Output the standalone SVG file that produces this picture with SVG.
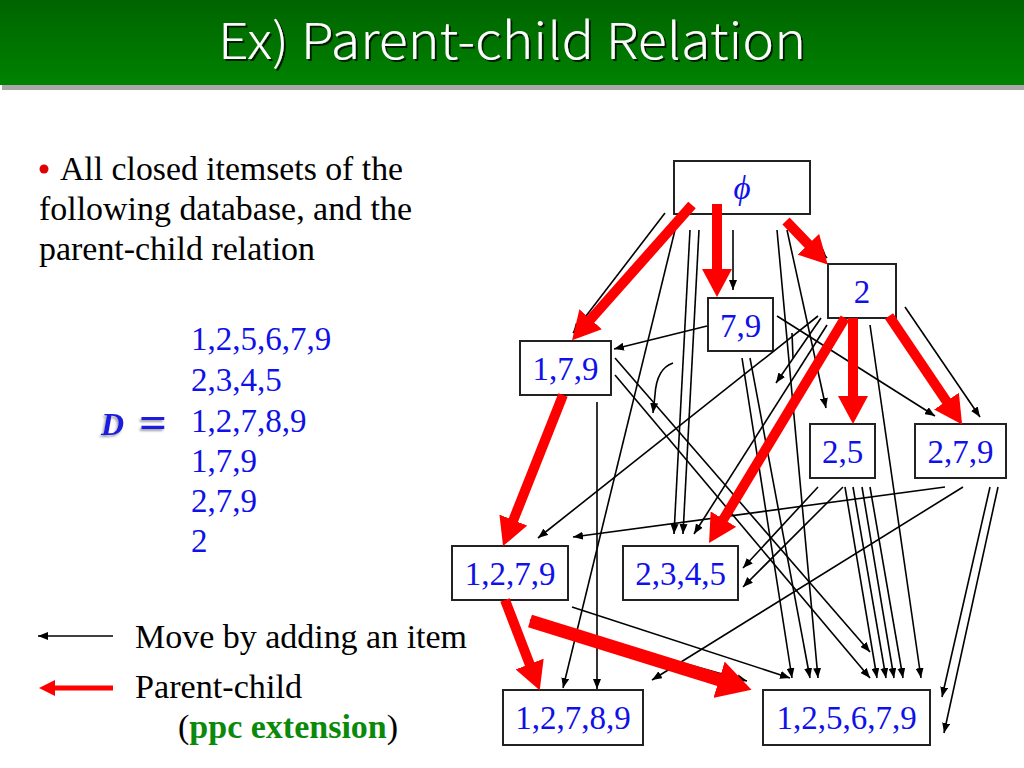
<svg xmlns="http://www.w3.org/2000/svg" width="1024" height="768" viewBox="0 0 1024 768">
<defs>
<linearGradient id="gTitle" x1="0" y1="0" x2="0" y2="1">
<stop offset="0" stop-color="#006400"/>
<stop offset="1" stop-color="#008200"/>
</linearGradient>
<filter id="shTitle" x="-5%" y="-20%" width="110%" height="150%">
<feDropShadow dx="2" dy="2" stdDeviation="0.6" flood-color="#000" flood-opacity="0.75"/>
</filter>
<filter id="shD" x="-30%" y="-30%" width="160%" height="160%">
<feDropShadow dx="-1.5" dy="2" stdDeviation="0.8" flood-color="#888" flood-opacity="0.8"/>
</filter>
<marker id="ab" viewBox="0 0 10 8" refX="10" refY="4" markerWidth="10" markerHeight="8" markerUnits="userSpaceOnUse" orient="auto">
<path d="M0,0 L10,4 L0,8 z" fill="#000"/>
</marker>
<marker id="ar" viewBox="0 0 28 30" refX="1" refY="15" markerWidth="28" markerHeight="30" markerUnits="userSpaceOnUse" orient="auto">
<path d="M0,0 L28,15 L0,30 z" fill="#ff0000"/>
</marker>
<marker id="arBig" viewBox="0 0 34 38" refX="1" refY="19" markerWidth="34" markerHeight="38" markerUnits="userSpaceOnUse" orient="auto">
<path d="M0,0 L34,19 L0,38 z" fill="#ff0000"/>
</marker>
<marker id="arLeg" viewBox="0 0 16 16" refX="1" refY="8" markerWidth="16" markerHeight="16" markerUnits="userSpaceOnUse" orient="auto">
<path d="M0,0 L16,8 L0,16 z" fill="#ff0000"/>
</marker>
<style>
.box{fill:#fff;stroke:#222;stroke-width:2}
.lbl{font-family:"Liberation Serif","Times New Roman",serif;font-size:33px;fill:#1010e8;text-anchor:middle}
.blk{fill:none;stroke:#000;stroke-width:1.6;marker-end:url(#ab)}
.red{fill:none;stroke:#ff0000;stroke-width:10;marker-end:url(#ar)}
.txt{font-family:"Liberation Serif","Times New Roman",serif;font-size:34px;fill:#000}
.db{font-family:"Liberation Serif","Times New Roman",serif;font-size:33px;fill:#1010e8}
</style>
</defs>
<rect width="1024" height="768" fill="#fff"/>
<g id="title">
<rect x="2" y="85" width="1022" height="5" fill="#a8a8a8"/>
<rect x="0" y="0" width="1024" height="85" fill="url(#gTitle)"/>
<text x="512" y="59" text-anchor="middle" font-family="'Noto Sans CJK JP','Noto Sans',sans-serif" font-size="50" font-weight="300" fill="#fff" textLength="588" lengthAdjust="spacingAndGlyphs" filter="url(#shTitle)">Ex) Parent-child Relation</text>
</g>
<g id="intro">
<circle cx="44" cy="169" r="4.5" fill="#e00000"/>
<text class="txt" x="60" y="180" textLength="343" lengthAdjust="spacingAndGlyphs">All closed itemsets of the</text>
<text class="txt" x="39" y="220" textLength="373" lengthAdjust="spacingAndGlyphs">following database, and the</text>
<text class="txt" x="39" y="260" textLength="276" lengthAdjust="spacingAndGlyphs">parent-child relation</text>
</g>
<g id="database">
<text x="101" y="435" font-family="'Liberation Serif',serif" font-size="32" font-weight="bold" font-style="italic" fill="#1a1ae0" filter="url(#shD)">D</text>
<text x="139" y="437" font-family="'Liberation Serif',serif" font-size="44" font-weight="bold" fill="#1a1ae0" filter="url(#shD)" textLength="28" lengthAdjust="spacingAndGlyphs">=</text>
<text class="db" x="191" y="350">1,2,5,6,7,9</text>
<text class="db" x="191" y="391">2,3,4,5</text>
<text class="db" x="191" y="432">1,2,7,8,9</text>
<text class="db" x="191" y="472">1,7,9</text>
<text class="db" x="191" y="512">2,7,9</text>
<text class="db" x="191" y="552">2</text>
</g>
<g id="legend">
<line x1="113" y1="636" x2="38" y2="636" stroke="#000" stroke-width="1.6" marker-end="url(#ab)"/>
<text class="txt" x="135" y="648" textLength="332" lengthAdjust="spacingAndGlyphs">Move by adding an item</text>
<line x1="113" y1="688" x2="54" y2="688" stroke="#ff0000" stroke-width="5" marker-end="url(#arLeg)"/>
<text class="txt" x="135" y="698" textLength="167" lengthAdjust="spacingAndGlyphs">Parent-child</text>
<text class="txt" x="178" y="738">(<tspan fill="#0a8a0a" font-weight="bold">ppc extension</tspan>)</text>
</g>
<g id="node-phi"><rect class="box" x="674" y="161" width="136" height="53"/><text class="lbl" x="742" y="199" font-style="italic">ϕ</text></g>
<g id="node-2"><rect class="box" x="828" y="264" width="68" height="54"/><text class="lbl" x="862" y="303">2</text></g>
<g id="node-79"><rect class="box" x="708" y="298" width="65" height="53"/><text class="lbl" x="740.5" y="337">7,9</text></g>
<g id="node-179"><rect class="box" x="520" y="341" width="91" height="54"/><text class="lbl" x="565.5" y="380">1,7,9</text></g>
<g id="node-25"><rect class="box" x="810" y="424" width="65" height="54"/><text class="lbl" x="842.5" y="463">2,5</text></g>
<g id="node-279"><rect class="box" x="915" y="424" width="91" height="54"/><text class="lbl" x="960.5" y="463">2,7,9</text></g>
<g id="node-1279"><rect class="box" x="452" y="546" width="116" height="54"/><text class="lbl" x="510" y="585">1,2,7,9</text></g>
<g id="node-2345"><rect class="box" x="623" y="546" width="115" height="54"/><text class="lbl" x="680.5" y="585">2,3,4,5</text></g>
<g id="node-12789"><rect class="box" x="503" y="690" width="140" height="55"/><text class="lbl" x="573" y="729">1,2,7,8,9</text></g>
<g id="node-125679"><rect class="box" x="763" y="690" width="167" height="55"/><text class="lbl" x="846.5" y="729">1,2,5,6,7,9</text></g>
<g id="connectors">
<line class="blk" x1="665" y1="213" x2="573" y2="333"/>
<line class="blk" x1="675" y1="230" x2="563" y2="688"/>
<line class="blk" x1="690" y1="230" x2="674" y2="534"/>
<line class="blk" x1="699" y1="230" x2="683" y2="534"/>
<line class="blk" x1="733" y1="230" x2="733" y2="290"/>
<line class="blk" x1="777" y1="230" x2="818" y2="678"/>
<line class="blk" x1="787" y1="230" x2="826" y2="408"/>
<line class="blk" x1="792" y1="222" x2="827" y2="258"/>
<line class="blk" x1="707" y1="326" x2="614" y2="349"/>
<line class="blk" x1="777" y1="316" x2="935" y2="416"/>
<line class="blk" x1="742" y1="358" x2="792" y2="678"/>
<line class="blk" x1="750" y1="358" x2="810" y2="678"/>
<line class="blk" x1="597" y1="402" x2="597" y2="689"/>
<line class="blk" x1="615" y1="358" x2="870" y2="652"/>
<line class="blk" x1="615" y1="375" x2="870" y2="678"/>
<line class="blk" x1="818" y1="316" x2="538" y2="538"/>
<line class="blk" x1="827" y1="325" x2="694" y2="534"/>
<line class="blk" x1="821" y1="318" x2="776" y2="383"/>
<path d="M792,333 L793,358" fill="none" stroke="#000" stroke-width="1.6"/>
<line class="blk" x1="870" y1="325" x2="921" y2="678"/>
<line class="blk" x1="905" y1="307" x2="980" y2="417"/>
<line class="blk" x1="818" y1="487" x2="743" y2="568"/>
<line class="blk" x1="843" y1="487" x2="743" y2="587"/>
<line class="blk" x1="845" y1="487" x2="877" y2="678"/>
<line class="blk" x1="853" y1="487" x2="886" y2="678"/>
<line class="blk" x1="862" y1="487" x2="894" y2="678"/>
<line class="blk" x1="870" y1="487" x2="903" y2="678"/>
<line class="blk" x1="945" y1="487" x2="573" y2="537"/>
<line class="blk" x1="963" y1="487" x2="652" y2="680"/>
<line class="blk" x1="990" y1="487" x2="942" y2="697"/>
<line class="blk" x1="998" y1="487" x2="944" y2="733"/>
<line class="blk" x1="572" y1="607" x2="790" y2="678"/>
<line class="blk" x1="530" y1="620" x2="747" y2="681"/>
<path class="blk" d="M673,363 C661,367 656,378 655,395 L653,413"/>
<line class="red" x1="692" y1="205" x2="590" y2="320"/>
<line class="red" x1="717" y1="204" x2="717" y2="270"/>
<line class="red" x1="786" y1="221" x2="809" y2="245"/>
<line class="red" x1="845" y1="318" x2="723" y2="520"/>
<line class="red" x1="853" y1="318" x2="853" y2="397"/>
<line class="red" x1="889" y1="316" x2="947" y2="402"/>
<line class="red" x1="563" y1="395" x2="513" y2="521"/>
<line class="red" x1="505" y1="600" x2="530" y2="665"/>
<line x1="530" y1="621" x2="720" y2="680" stroke="#ff0000" stroke-width="13" marker-end="url(#arBig)"/>
</g>
</svg>
